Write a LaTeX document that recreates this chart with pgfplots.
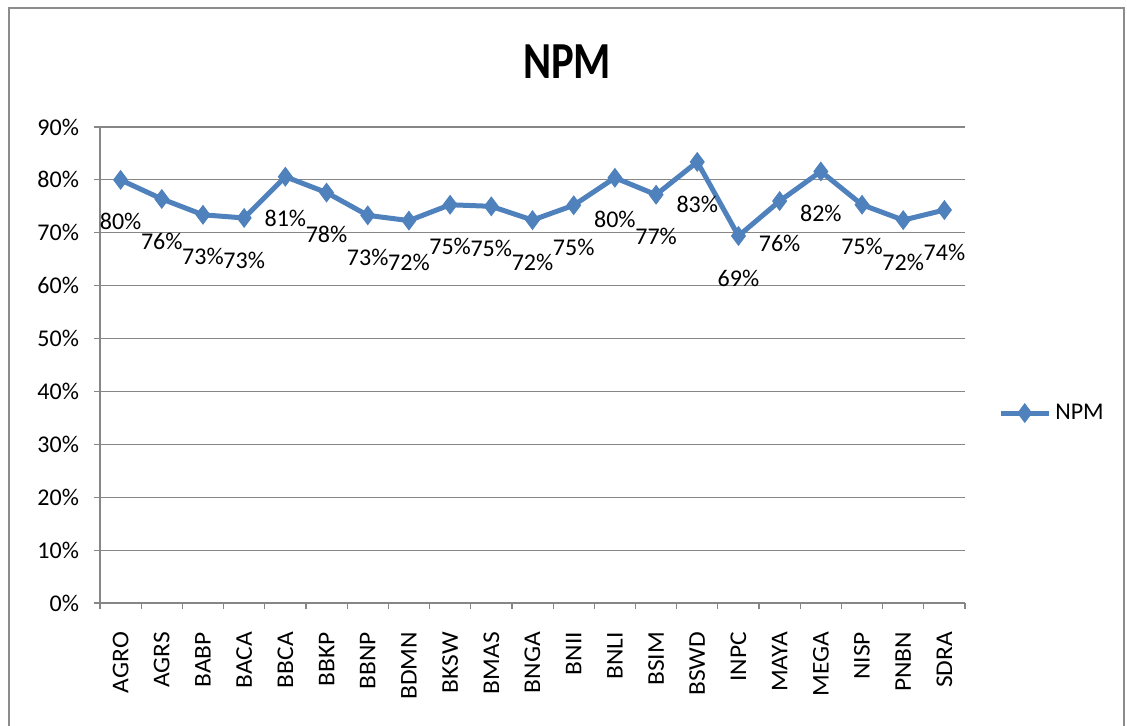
\documentclass[border=0pt]{standalone}
\usepackage{pgfplots}
\pgfplotsset{compat=1.18}
\usepackage{fontspec}
\setmainfont{Carlito}
\newfontfamily\titlefont[FakeStretch=0.82]{Carlito}
\newfontfamily\xlabfont[FakeStretch=1.06]{Carlito}
\definecolor{ser}{HTML}{4F81BD}
\definecolor{gridc}{HTML}{868686}
\definecolor{framec}{HTML}{8C8C8C}
\pgfplotstableread{
x name val
0 AGRO 80.0
1 AGRS 76.4
2 BABP 73.4
3 BACA 72.8
4 BBCA 80.6
5 BBKP 77.6
6 BBNP 73.3
7 BDMN 72.3
8 BKSW 75.3
9 BMAS 75.0
10 BNGA 72.4
11 BNII 75.2
12 BNLI 80.4
13 BSIM 77.2
14 BSWD 83.4
15 INPC 69.4
16 MAYA 76.0
17 MEGA 81.6
18 NISP 75.3
19 PNBN 72.4
20 SDRA 74.3
}\npmdata
\begin{document}
\begin{tikzpicture}
\useasboundingbox (0,0) rectangle (563.5pt,363pt);
\fill[white] (0,0) rectangle (563.5pt,363pt);
\draw[framec, line width=1pt] (4.5pt,-5pt) -- (4.5pt,359pt) -- (562pt,359pt) -- (562pt,-5pt);
\begin{axis}[
  at={(50pt,61.5pt)}, anchor=south west,
  scale only axis, width=432.5pt, height=238pt,
  xmin=-0.5, xmax=20.5, ymin=0, ymax=90,
  axis x line*=bottom, axis y line*=left,
  axis line style={gridc, line width=0.6pt},
  ytick={0,10,...,90},
  yticklabel={\pgfmathprintnumber{\tick}\%},
  /pgf/number format/assume math mode=true,
  xtick={0,...,20},
  xticklabels={AGRO,AGRS,BABP,BACA,BBCA,BBKP,BBNP,BDMN,BKSW,BMAS,BNGA,BNII,BNLI,BSIM,BSWD,INPC,MAYA,MEGA,NISP,PNBN,SDRA},
  minor xtick={-0.5,0.5,...,20.5},
  major x tick style={draw=none},
  minor tick length=3pt, major tick length=3pt,
  tick align=outside,
  tick style={gridc, line width=0.6pt},
  ymajorgrids, grid style={gridc, line width=0.6pt},
  ticklabel style={font=\fontsize{12}{14}\selectfont, text=black},
  xticklabel style={rotate=90, anchor=east, xshift=-8pt, font=\xlabfont\fontsize{12}{14}\selectfont},
  yticklabel style={xshift=-4pt},
  title={\titlefont\bfseries\fontsize{26}{30}\selectfont NPM},
  title style={at={(0.54,1.1366)}, anchor=center, yshift=-6pt},
  legend style={at={(1.038,0.399)}, anchor=west, draw=none, fill=none,
    font=\fontsize{12}{14}\selectfont, inner sep=0pt},
  legend cell align=left,
  legend image code/.code={\draw[mark repeat=2,mark phase=2,#1] plot coordinates {(0pt,0pt) (12pt,0pt) (24pt,0pt)};},
  clip=false,
]
\addplot[ser, line width=2.5pt, mark=diamond*, mark size=4.6pt,
  mark options={fill=ser, line width=0.5pt},
  point meta=y,
  nodes near coords={\pgfmathprintnumber[fixed,precision=0]{\pgfplotspointmeta}\%},
  nodes near coords style={anchor=center, yshift=-21pt, text=black, font=\fontsize{12}{14}\selectfont, /pgf/number format/assume math mode=true},
] table[x=x, y=val] {\npmdata};
\legend{NPM}
\end{axis}
\end{tikzpicture}
\end{document}
